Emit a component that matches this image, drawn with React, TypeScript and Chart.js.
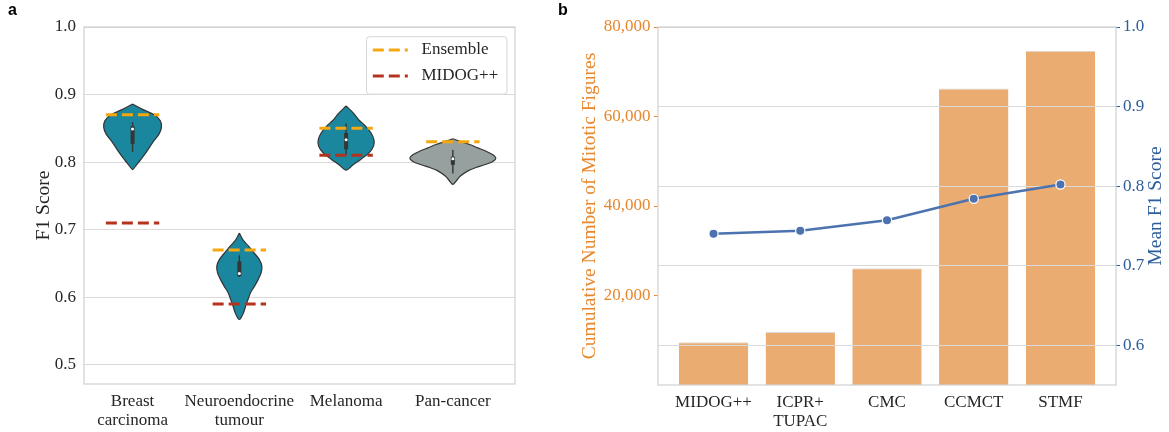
import React, { useEffect, useRef } from 'react';
import { Chart, registerables } from 'chart.js';

Chart.register(...registerables);

// ---------------- Panel a data ----------------
const CANCER_TYPES = [['Breast', 'carcinoma'], ['Neuroendocrine', 'tumour'], 'Melanoma', 'Pan-cancer'];
const F1_TICKS = [0.5, 0.6, 0.7, 0.8, 0.9, 1.0];
const ENSEMBLE_F1 = [0.87, 0.67, 0.85, 0.83];
const MIDOG_F1: (number | null)[] = [0.71, 0.59, 0.81, null];
const LEGEND_LABELS = ['Ensemble', 'MIDOG++'];

// violin outlines: F1 score levels (top to bottom) and half-widths (in category units)
const BREAST_SCORES = [0.886, 0.878, 0.870, 0.861, 0.851, 0.841, 0.831, 0.824, 0.814, 0.804, 0.796, 0.789];
const BREAST_WIDTHS = [0, 0.094, 0.203, 0.260, 0.270, 0.246, 0.197, 0.167, 0.125, 0.078, 0.037, 0];
const NEURO_SCORES = [0.695, 0.6855, 0.676, 0.666, 0.656, 0.646, 0.636, 0.626, 0.616, 0.607, 0.597, 0.587, 0.577, 0.567];
const NEURO_WIDTHS = [0, 0.031, 0.084, 0.136, 0.186, 0.211, 0.204, 0.176, 0.141, 0.106, 0.082, 0.059, 0.039, 0];
const MELANOMA_SCORES = [0.883, 0.873, 0.863, 0.853, 0.843, 0.833, 0.824, 0.814, 0.804, 0.796, 0.788];
const MELANOMA_WIDTHS = [0, 0.066, 0.117, 0.184, 0.234, 0.261, 0.258, 0.217, 0.137, 0.066, 0];
const PAN_SCORES = [0.8345, 0.831, 0.826, 0.821, 0.816, 0.811, 0.806, 0.801, 0.796, 0.792, 0.787, 0.779, 0.772, 0.767];
const PAN_WIDTHS = [0, 0.063, 0.157, 0.234, 0.312, 0.375, 0.403, 0.375, 0.297, 0.218, 0.141, 0.068, 0.031, 0];

// inner box plots
const BOX_Q1 = [0.827, 0.631, 0.819, 0.796];
const BOX_Q3 = [0.853, 0.653, 0.843, 0.808];
const WHISKER_LOW = [0.815, 0.630, 0.811, 0.783];
const WHISKER_HIGH = [0.859, 0.662, 0.857, 0.818];
const MEDIANS = [0.849, 0.635, 0.833, 0.805];

// ---------------- Panel b data ----------------
const DATASET_NAMES = ['MIDOG++', ['ICPR+', 'TUPAC'], 'CMC', 'CCMCT', 'STMF'];
const MITOTIC_COUNTS = [9550, 11850, 26100, 66250, 74700];
const MEAN_F1 = [0.740, 0.744, 0.757, 0.784, 0.802];
const COUNT_TICKS = [20000, 40000, 60000, 80000];
const MEAN_F1_TICKS = [0.6, 0.7, 0.8, 0.9, 1.0];

// ---------------- styles ----------------
const SERIF = '"Liberation Serif", "Times New Roman", serif';
const TEXT = '#262626';
const GRID = '#dadada';
const FRAME = '#d0d0d0';
const TEAL = '#1A879F';
const GREY = '#96A09E';
const OUTLINE = '#353535';
const ORANGE_DASH = '#F5A70F';
const RED_DASH = '#B5321E';
const BAR = '#EAAC70';
const LINE_BLUE = '#4C72B0';
const AXIS_ORANGE = '#E8872C';
const AXIS_BLUE = '#2C5E9C';

const VIOLINS = [
  { scores: BREAST_SCORES, widths: BREAST_WIDTHS },
  { scores: NEURO_SCORES, widths: NEURO_WIDTHS },
  { scores: MELANOMA_SCORES, widths: MELANOMA_WIDTHS },
  { scores: PAN_SCORES, widths: PAN_WIDTHS },
];
const VIOLIN_FILLS = [TEAL, TEAL, TEAL, GREY];
const LEGEND_COLORS = [ORANGE_DASH, RED_DASH];

function alignPx(p: number, w: number) {
  const h = w / 2;
  return Math.round(p - h) + h;
}

const framePlugin = {
  id: 'frame',
  afterDraw(chart: any) {
    const { ctx, chartArea: a } = chart;
    ctx.save();
    ctx.strokeStyle = FRAME;
    ctx.lineWidth = 1.2;
    ctx.strokeRect(a.left, a.top, a.right - a.left, a.bottom - a.top);
    ctx.restore();
  },
};

function panelLetter(letter: string) {
  return {
    id: 'panelLetter' + letter,
    afterDraw(chart: any) {
      const { ctx } = chart;
      ctx.save();
      ctx.fillStyle = '#000';
      ctx.font = 'bold 16px "Liberation Sans", Arial, sans-serif';
      ctx.textBaseline = 'alphabetic';
      ctx.textAlign = 'left';
      ctx.fillText(letter, 8, 15);
      ctx.restore();
    },
  };
}

const legendPlugin = {
  id: 'insideLegend',
  afterDatasetsDraw(chart: any) {
    const { ctx, chartArea } = chart;
    const w = 140.5;
    const h = 57.5;
    const x = chartArea.right - 8 - w;
    const y = chartArea.top + 9.7;
    ctx.save();
    ctx.beginPath();
    if (ctx.roundRect) ctx.roundRect(x, y, w, h, 3);
    else ctx.rect(x, y, w, h);
    ctx.fillStyle = 'rgba(255,255,255,0.85)';
    ctx.fill();
    ctx.strokeStyle = '#d6d6d6';
    ctx.lineWidth = 1;
    ctx.stroke();
    LEGEND_LABELS.forEach((lab, k) => {
      const ly = y + 13.3 + k * 26;
      ctx.setLineDash([11, 5]);
      ctx.lineCap = 'butt';
      ctx.lineWidth = 3;
      ctx.strokeStyle = LEGEND_COLORS[k];
      ctx.beginPath();
      ctx.moveTo(x + 6.3, ly);
      ctx.lineTo(x + 41.3, ly);
      ctx.stroke();
      ctx.setLineDash([]);
      ctx.fillStyle = TEXT;
      ctx.font = `17px ${SERIF}`;
      ctx.textBaseline = 'middle';
      ctx.textAlign = 'left';
      ctx.fillText(lab, x + 55, ly);
    });
    ctx.restore();
  },
};

const gridOverBarsPlugin = {
  id: 'gridOverBars',
  afterDatasetDraw(chart: any, args: any) {
    if (args.index !== 0) return;
    const { ctx, chartArea } = chart;
    const s = chart.scales.yRight;
    ctx.save();
    ctx.strokeStyle = GRID;
    ctx.lineWidth = 1;
    MEAN_F1_TICKS.forEach((v) => {
      const y = alignPx(s.getPixelForValue(v), 1);
      ctx.beginPath();
      ctx.moveTo(chartArea.left, y);
      ctx.lineTo(chartArea.right, y);
      ctx.stroke();
    });
    ctx.restore();
  },
};

const rightTitlePlugin = {
  id: 'rightTitle',
  afterDraw(chart: any) {
    const { ctx, chartArea } = chart;
    ctx.save();
    ctx.translate(chartArea.right + 40.3, (chartArea.top + chartArea.bottom) / 2);
    ctx.rotate(-Math.PI / 2);
    ctx.fillStyle = AXIS_BLUE;
    ctx.font = `19.5px ${SERIF}`;
    ctx.textAlign = 'center';
    ctx.textBaseline = 'middle';
    ctx.fillText('Mean F1 Score', 0, 0);
    ctx.restore();
  },
};

function buildPanelA(canvas: HTMLCanvasElement) {
  const datasets: any[] = [];
  VIOLINS.forEach((v, i) => {
    const pts: { x: number; y: number }[] = [];
    for (let k = 0; k < v.scores.length; k++) pts.push({ x: i + v.widths[k], y: v.scores[k] });
    for (let k = v.scores.length - 2; k >= 0; k--) pts.push({ x: i - v.widths[k], y: v.scores[k] });
    datasets.push({
      data: pts,
      showLine: true,
      fill: 'shape',
      backgroundColor: VIOLIN_FILLS[i],
      borderColor: OUTLINE,
      borderWidth: 1.2,
      pointRadius: 0,
      tension: 0.3,
      order: 6,
    });
  });
  CANCER_TYPES.forEach((_, i) => {
    datasets.push({
      data: [{ x: i, y: WHISKER_LOW[i] }, { x: i, y: WHISKER_HIGH[i] }],
      showLine: true, borderColor: OUTLINE, borderWidth: 1.4, pointRadius: 0, order: 5,
    });
    datasets.push({
      data: [{ x: i, y: BOX_Q1[i] }, { x: i, y: BOX_Q3[i] }],
      showLine: true, borderColor: OUTLINE, borderWidth: 4, pointRadius: 0, order: 4,
    });
  });
  datasets.push({
    data: MEDIANS.map((m, i) => ({ x: i, y: m })),
    showLine: false, pointRadius: 1.5, pointBackgroundColor: '#ffffff', pointBorderWidth: 0, order: 3,
  });
  const addDash = (vals: (number | null)[], color: string) => {
    vals.forEach((v, i) => {
      if (v === null) return;
      datasets.push({
        data: [{ x: i - 0.25, y: v }, { x: i + 0.25, y: v }],
        showLine: true, borderColor: color, borderWidth: 3, borderDash: [11, 5],
        borderCapStyle: 'butt', pointRadius: 0, order: 1,
      });
    });
  };
  addDash(ENSEMBLE_F1, ORANGE_DASH);
  addDash(MIDOG_F1, RED_DASH);

  return new Chart(canvas, {
    type: 'scatter',
    data: { datasets },
    options: {
      responsive: false,
      animation: false,
      events: [],
      layout: { padding: { top: 27, right: 35, left: 0, bottom: 0 } },
      plugins: { legend: { display: false }, tooltip: { enabled: false } },
      scales: {
        x: {
          type: 'linear',
          min: -0.455,
          max: 3.582,
          afterBuildTicks: (s: any) => { s.ticks = CANCER_TYPES.map((_, i) => ({ value: i })); },
          afterFit: (s: any) => { s.height = 48; },
          grid: { display: false, drawTicks: false },
          border: { display: false },
          ticks: {
            autoSkip: false, maxRotation: 0, padding: 8, color: TEXT,
            font: { family: SERIF, size: 17, lineHeight: 1.1 },
            callback: (v: any) => (CANCER_TYPES as any)[v] ?? '',
          },
        },
        y: {
          type: 'linear',
          min: 0.4715,
          max: 1.0,
          afterBuildTicks: (s: any) => { s.ticks = F1_TICKS.map((v) => ({ value: v })); },
          afterFit: (s: any) => { s.width = 84; },
          grid: { color: GRID, lineWidth: 1, drawTicks: false },
          border: { display: false },
          ticks: {
            padding: 8, color: TEXT, font: { family: SERIF, size: 17 },
            callback: (v: any) => Number(v).toFixed(1),
          },
          title: {
            display: true, text: 'F1 Score', color: TEXT,
            font: { family: SERIF, size: 19.5 }, padding: { top: 31.7, bottom: 0 },
          },
        },
      },
    } as any,
    plugins: [framePlugin, legendPlugin, panelLetter('a')],
  });
}

function buildPanelB(canvas: HTMLCanvasElement) {
  return new Chart(canvas, {
    type: 'bar',
    data: {
      datasets: [
        {
          type: 'bar',
          data: MITOTIC_COUNTS.map((v, i) => ({ x: i, y: v })),
          yAxisID: 'yLeft',
          backgroundColor: BAR,
          borderColor: '#dcdcdc',
          borderWidth: { top: 1, left: 0, right: 0, bottom: 0 },
          borderSkipped: 'bottom',
          categoryPercentage: 1,
          barPercentage: 0.8,
          order: 1,
        } as any,
        {
          type: 'line',
          data: MEAN_F1.map((v, i) => ({ x: i, y: v })),
          yAxisID: 'yRight',
          borderColor: LINE_BLUE,
          borderWidth: 2.5,
          pointRadius: 4.6,
          pointBackgroundColor: LINE_BLUE,
          pointBorderColor: '#ffffff',
          pointBorderWidth: 1.2,
          tension: 0,
          order: 0,
        } as any,
      ],
    },
    options: {
      responsive: false,
      animation: false,
      events: [],
      layout: { padding: { top: 27, right: 0, left: 0, bottom: 0 } },
      plugins: { legend: { display: false }, tooltip: { enabled: false } },
      scales: {
        x: {
          type: 'linear',
          min: -0.64,
          max: 4.64,
          offset: false,
          afterBuildTicks: (s: any) => { s.ticks = DATASET_NAMES.map((_, i) => ({ value: i })); },
          afterFit: (s: any) => { s.height = 47; },
          grid: { display: false, drawTicks: false, offset: false },
          border: { display: false },
          ticks: {
            autoSkip: false, maxRotation: 0, padding: 8, color: TEXT,
            font: { family: SERIF, size: 17, lineHeight: 1.1 },
            callback: (v: any) => (DATASET_NAMES as any)[v] ?? '',
          },
        },
        yLeft: {
          type: 'linear',
          position: 'left',
          min: 0,
          max: 80000,
          afterBuildTicks: (s: any) => { s.ticks = COUNT_TICKS.map((v) => ({ value: v })); },
          afterFit: (s: any) => { s.width = 108; },
          grid: { display: true, drawOnChartArea: false, drawTicks: true, tickLength: 4, tickColor: AXIS_ORANGE, tickWidth: 1 },
          border: { display: false },
          ticks: {
            padding: 3.5, color: AXIS_ORANGE, font: { family: SERIF, size: 17 },
            callback: (v: any) => Number(v).toLocaleString('en-US'),
          },
          title: {
            display: true, text: 'Cumulative Number of Mitotic Figures', color: AXIS_ORANGE,
            font: { family: SERIF, size: 19.5 }, padding: { top: 27.7, bottom: 0 },
          },
        },
        yRight: {
          type: 'linear',
          position: 'right',
          min: 0.55,
          max: 1.0,
          afterBuildTicks: (s: any) => { s.ticks = MEAN_F1_TICKS.map((v) => ({ value: v })); },
          afterFit: (s: any) => { s.width = 53; },
          grid: { display: true, drawOnChartArea: false, drawTicks: true, tickLength: 4, tickColor: AXIS_BLUE, tickWidth: 1 },
          border: { display: false },
          ticks: {
            padding: 3, color: AXIS_BLUE, font: { family: SERIF, size: 17 },
            callback: (v: any) => Number(v).toFixed(1),
          },
        },
      },
    } as any,
    plugins: [gridOverBarsPlugin, framePlugin, rightTitlePlugin, panelLetter('b')],
  });
}

export default function App() {
  const refA = useRef<HTMLCanvasElement>(null);
  const refB = useRef<HTMLCanvasElement>(null);
  useEffect(() => {
    const a = buildPanelA(refA.current!);
    const b = buildPanelB(refB.current!);
    return () => {
      a.destroy();
      b.destroy();
    };
  }, []);
  return (
    <div style={{ position: 'fixed', left: 0, top: 0, width: 1169, height: 432, background: '#ffffff' }}>
      <canvas ref={refA} width={550} height={432} style={{ position: 'absolute', left: 0, top: 0, display: 'block' }} />
      <canvas ref={refB} width={619} height={432} style={{ position: 'absolute', left: 550, top: 0, display: 'block' }} />
    </div>
  );
}
